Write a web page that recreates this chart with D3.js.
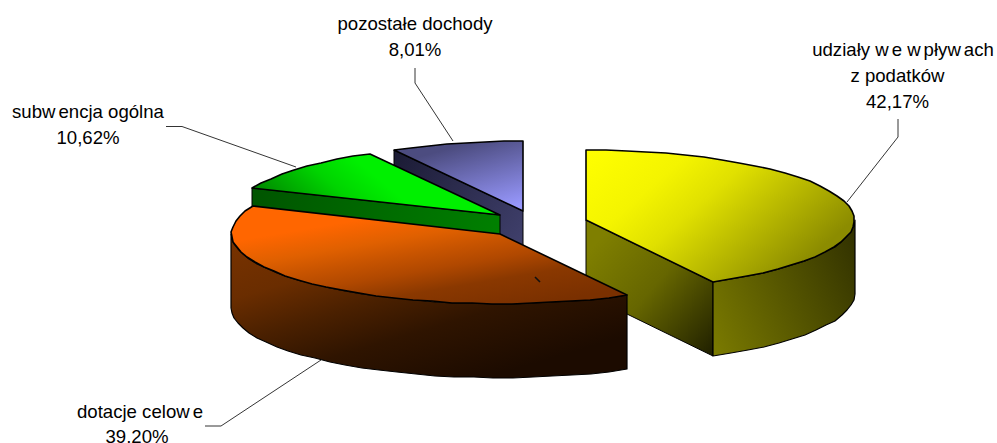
<!DOCTYPE html>
<html>
<head>
<meta charset="utf-8">
<script src="https://cdn.jsdelivr.net/npm/d3@7"></script>
<style>
    html, body { margin: 0; padding: 0; background: #fff; overflow: hidden; }
    text { font-family: "Liberation Sans", Arial, sans-serif; font-size: 18.6px; fill: #000; }
</style>
</head>
<body>
<div id="chart"></div>
<script>
// Values
const categories = ["udziały we wpływach z podatków", "dotacje celowe", "subwencja ogólna", "pozostałe dochody"];
const shares = [42.17, 39.20, 10.62, 8.01];
const shareLabels = ["42,17%", "39,20%", "10,62%", "8,01%"];
const explosion = [0.194, 0.197, 0.18, 0.18];

const width = 997;
const height = 443;

const svg = d3.select("#chart")
    .append("svg")
    .attr("width", width)
    .attr("height", height)
    .style("display", "block");

// Pie geometry: flat ellipse, extruded downwards
const cx = 535.5, cy = 223.5, rx = 268.5, ry = 70, depth = 74;
const xScale = d3.scaleLinear().domain([-1, 1]).range([cx - rx, cx + rx]);
const yScale = d3.scaleLinear().domain([-1, 1]).range([cy - ry, cy + ry]);

const pie = d3.pie().sort(null).startAngle(0).endAngle(2 * Math.PI);
const slices = pie(shares);

// Point on the pie for angle a (clockwise from 12 o'clock), u = distance from the centre
function project(a, u, expl) {
    const mid = expl.mid;
    return [
        xScale(u * Math.sin(a) + expl.e * Math.sin(mid)),
        yScale(-u * Math.cos(a) - expl.e * Math.cos(mid))
    ];
}

function arcPoints(a0, a1, e) {
    // coarse steps + rounding, the original outline is a bit bumpy as well
    const n = Math.max(1, Math.round((a1 - a0) / 0.075));
    return d3.range(n + 1).map(i => {
        const p = project(a0 + (a1 - a0) * i / n, 1, e);
        return [Math.round(p[0]), Math.round(p[1])];
    });
}

const line = d3.line();
const closed = pts => line(pts) + "Z";
const down = p => [p[0], p[1] + depth];

// Gradients
const defs = svg.append("defs");
function gradient(id, x1, y1, x2, y2, stops) {
    const g = defs.append("linearGradient")
        .attr("id", id)
        .attr("gradientUnits", "userSpaceOnUse")
        .attr("x1", x1).attr("y1", y1).attr("x2", x2).attr("y2", y2);
    stops.forEach(s => g.append("stop").attr("offset", s[0]).attr("stop-color", s[1]));
}

gradient("yellowTop", 590, 150, 740, 320, [[0, "#ffff00"], [0.3, "#f4f400"], [0.5, "#e0e000"], [1, "#8c8c00"]]);
gradient("yellowArc", 690, 330, 860, 250, [[0, "#7f7f00"], [1, "#333300"]]);
gradient("yellowCut", 590, 250, 712, 355, [[0, "#7f7f00"], [0.45, "#666600"], [1, "#202000"]]);
gradient("brownTop", 270, 215, 292, 345, [[0, "#ff6600"], [0.15, "#ff6600"], [0.34, "#e06000"], [0.47, "#c85400"], [0.61, "#b04800"], [0.77, "#8a3800"], [1, "#7a3000"]]);
gradient("brownArc", 233, 233, 293, 435, [[0, "#7a3300"], [0.3, "#6a2d00"], [0.5, "#4a2000"], [0.7, "#2f1400"], [1, "#1c0b00"]]);
gradient("greenTop", 290, 215, 345, 150, [[0, "#008c00"], [0.6, "#00d400"], [1, "#00f000"]]);
gradient("greenCut", 250, 190, 500, 230, [[0, "#005400"], [1, "#008000"]]);
gradient("purpleTop", 480, 140, 500, 212, [[0, "#4c4c80"], [1, "#9999ff"]]);
gradient("purpleCut", 392, 150, 523, 245, [[0, "#1a1a33"], [1, "#40406c"]]);

const fills = [
    { top: "yellowTop", arc: "yellowArc", cut: "yellowCut" },
    { top: "brownTop", arc: "brownArc", cut: "brownArc" },
    { top: "greenTop", arc: "greenCut", cut: "greenCut" },
    { top: "purpleTop", arc: "purpleCut", cut: "purpleCut" }
];

// Back slices first so the front ones can cover them
const drawOrder = [3, 2, 0, 1];
const front0 = Math.PI / 2, front1 = 3 * Math.PI / 2;

drawOrder.forEach(i => {
    const d = slices[i];
    const e = { e: explosion[i], mid: (d.startAngle + d.endAngle) / 2 };
    const apex = project(0, 0, e).map(Math.round);
    const g = svg.append("g").attr("stroke", "#000").attr("stroke-linejoin", "round");

    // cut faces that look towards the viewer
    const cutFace = a => {
        const p = project(a, 1, e).map(Math.round);
        g.append("path")
            .attr("d", closed([apex, p, down(p), down(apex)]))
            .attr("fill", `url(#${fills[i].cut})`)
            .attr("stroke-width", 1);
    };
    if (d.startAngle > Math.PI && d.startAngle < 2 * Math.PI) cutFace(d.startAngle);
    if (d.endAngle > 0 && d.endAngle < Math.PI) cutFace(d.endAngle);

    // outer wall, only the front half of the ellipse shows
    const a0 = Math.max(d.startAngle, front0), a1 = Math.min(d.endAngle, front1);
    if (a1 > a0) {
        const rim = arcPoints(a0, a1, e);
        g.append("path")
            .attr("d", closed(rim.concat(rim.map(down).reverse())))
            .attr("fill", `url(#${fills[i].arc})`)
            .attr("stroke-width", 1.2);
    }

    // top face
    g.append("path")
        .attr("d", closed([apex].concat(arcPoints(d.startAngle, d.endAngle, e))))
        .attr("fill", `url(#${fills[i].top})`)
        .attr("stroke-width", 1.6);
});

// stray tick on the brown slice
svg.append("line")
    .attr("x1", 535).attr("y1", 277).attr("x2", 540).attr("y2", 282)
    .attr("stroke", "#111").attr("stroke-width", 1.6);

// Leader lines
const leaders = [
    [[898, 119], [898, 137], [847, 202]],
    [[205, 426], [221, 426], [321, 360]],
    [[166, 126.5], [182, 126.5], [296, 167]],
    [[415, 68], [415, 83], [453, 141]]
];
svg.selectAll("path.leader")
    .data(leaders)
    .join("path")
    .attr("class", "leader")
    .attr("d", d => line(d))
    .attr("fill", "none")
    .attr("stroke", "#000")
    .attr("stroke-width", 0.8);

// Labels. The original renderer leaves a gap after each w, so do that too
function addLine(x, y, str) {
    const t = svg.append("text").attr("x", x).attr("y", y).attr("text-anchor", "middle");
    const parts = str.split(/(?<=w)/);
    parts.forEach((p, k) => {
        t.append("tspan").attr("dx", k > 0 ? 3 : 0).text(p);
    });
}

const labelLines = [
    { lines: [["udziały we wpływach", 903, 56], ["z podatków", 897.5, 82], [shareLabels[0], 897.5, 108]] },
    { lines: [["dotacje celowe", 140, 418], [shareLabels[1], 137, 443]] },
    { lines: [["subwencja ogólna", 88, 118], [shareLabels[2], 88, 144]] },
    { lines: [["pozostałe dochody", 415, 30], [shareLabels[3], 415, 56]] }
];
labelLines.forEach(l => l.lines.forEach(s => addLine(s[1], s[2], s[0])));
</script>
</body>
</html>
